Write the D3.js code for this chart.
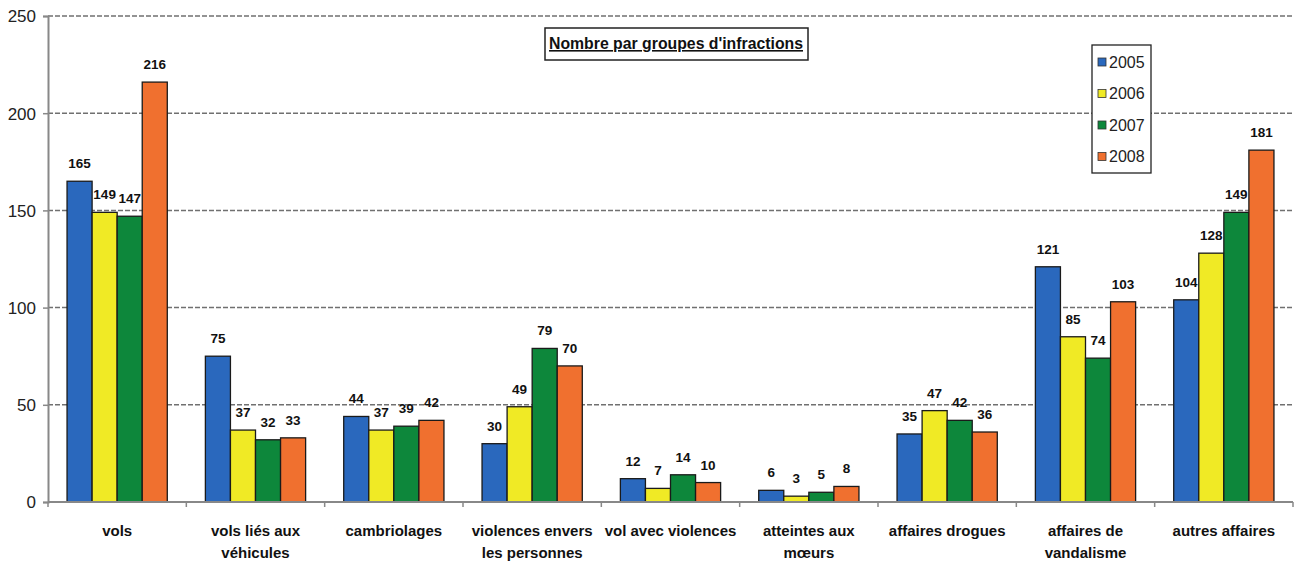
<!DOCTYPE html>
<html><head><meta charset="utf-8">
<script src="https://cdn.jsdelivr.net/npm/d3@7"></script>
<style>
body{margin:0;background:#fff;}
svg{display:block;}
text{font-family:"Liberation Sans Narrow","Arial Narrow","Liberation Sans",sans-serif;}
</style></head><body>
<svg id="c" width="1295" height="564"></svg>
<script>
const categories = [["vols"],["vols liés aux","véhicules"],["cambriolages"],["violences envers","les personnes"],["vol avec violences"],["atteintes aux","mœurs"],["affaires drogues"],["affaires de","vandalisme"],["autres affaires"]];
const years = ["2005","2006","2007","2008"];
const v2005 = [165,75,44,30,12,6,35,121,104];
const v2006 = [149,37,37,49,7,3,47,85,128];
const v2007 = [147,32,39,79,14,5,42,74,149];
const v2008 = [216,33,42,70,10,8,36,103,181];
const yTicks = [0,50,100,150,200,250];
const colors = ["#2a68bd","#f0ea25","#0d873b","#f0702f"];
const series = [v2005,v2006,v2007,v2008];

const svg = d3.select("#c");
const L = 48, R = 1293, T = 16, B = 502;
const x0 = d3.scaleBand().domain(d3.range(categories.length)).range([L,R]).padding(0);
const x1 = d3.scaleBand().domain(years).range([0,x0.bandwidth()]).paddingInner(0).paddingOuter(0.76);
const y = d3.scaleLinear().domain([0,250]).range([B,T]);

// gridlines
svg.append("g").selectAll("line").data(yTicks.filter(d=>d>0)).join("line")
  .attr("x1",L).attr("x2",R).attr("y1",d=>y(d)).attr("y2",d=>y(d))
  .attr("stroke","#707070").attr("stroke-width",1.5).attr("stroke-dasharray","5,2");

// y axis
const ya = svg.append("g").attr("transform",`translate(${L},0)`)
  .call(d3.axisLeft(y).tickValues(yTicks).tickSize(5).tickPadding(7));
ya.select(".domain").attr("stroke","#888").attr("stroke-width",2);
ya.selectAll(".tick line").attr("stroke","#888").attr("stroke-width",1.5);
ya.selectAll(".tick text").attr("font-size",17).attr("fill","#222")
  .style("font-family","'Liberation Sans Narrow','Liberation Sans',sans-serif").attr("dy","0.35em");

// bars
const groups = svg.append("g").selectAll("g").data(categories).join("g")
  .attr("transform",(d,i)=>`translate(${x0(i)},0)`);
groups.each(function(c,i){
  const g = d3.select(this);
  years.forEach((yr,j)=>{
    const val = series[j][i];
    g.append("rect").attr("x",x1(yr)).attr("width",x1.bandwidth())
      .attr("y",y(val)).attr("height",y(0)-y(val))
      .attr("fill",colors[j]).attr("stroke","#1a1a1a").attr("stroke-width",1.3);
    g.append("text").attr("x",x1(yr)+x1.bandwidth()/2).attr("y",y(val)-13)
      .attr("text-anchor","middle").attr("font-size",13.5).attr("font-weight","bold").attr("fill","#111")
      .text(val);
  });
});

// x axis
const xa = svg.append("g").attr("transform",`translate(0,${B})`);
xa.append("line").attr("x1",L).attr("x2",R).attr("stroke","#888").attr("stroke-width",2);
xa.selectAll(".tk").data(d3.range(categories.length+1)).join("line").attr("class","tk")
  .attr("x1",d=>L+d*x0.step()).attr("x2",d=>L+d*x0.step()).attr("y1",0).attr("y2",5)
  .attr("stroke","#888").attr("stroke-width",1.5);
categories.forEach((lines,i)=>{
  const t = xa.append("text").attr("x",x0(i)+x0.bandwidth()/2).attr("y",34)
    .attr("text-anchor","middle").attr("font-size",15).attr("font-weight","bold").attr("fill","#111");
  lines.forEach((ln,k)=>t.append("tspan").attr("x",x0(i)+x0.bandwidth()/2).attr("dy",k?22:0).text(ln));
});

// title
svg.append("rect").attr("x",545).attr("y",28).attr("width",263).attr("height",32)
  .attr("fill","#fff").attr("stroke","#222").attr("stroke-width",1.5);
svg.append("text").attr("x",676).attr("y",49).attr("text-anchor","middle")
  .attr("font-size",16).attr("font-weight","bold").attr("fill","#111")
  .attr("textLength",254).attr("lengthAdjust","spacingAndGlyphs")
  .attr("text-decoration","underline").text("Nombre par groupes d'infractions");

// legend
const lg = svg.append("g");
lg.append("rect").attr("x",1092).attr("y",45).attr("width",59).attr("height",128)
  .attr("fill","#fff").attr("stroke","#222").attr("stroke-width",1.3);
years.forEach((yr,j)=>{
  const cy = 62 + j*31.5;
  lg.append("rect").attr("x",1098).attr("y",cy-4).attr("width",8).attr("height",8)
    .attr("fill",colors[j]).attr("stroke","#333").attr("stroke-width",0.8);
  lg.append("text").attr("x",1109).attr("y",cy).attr("dy","0.35em").attr("font-size",16).attr("fill","#222").text(yr);
});
</script></body></html>
